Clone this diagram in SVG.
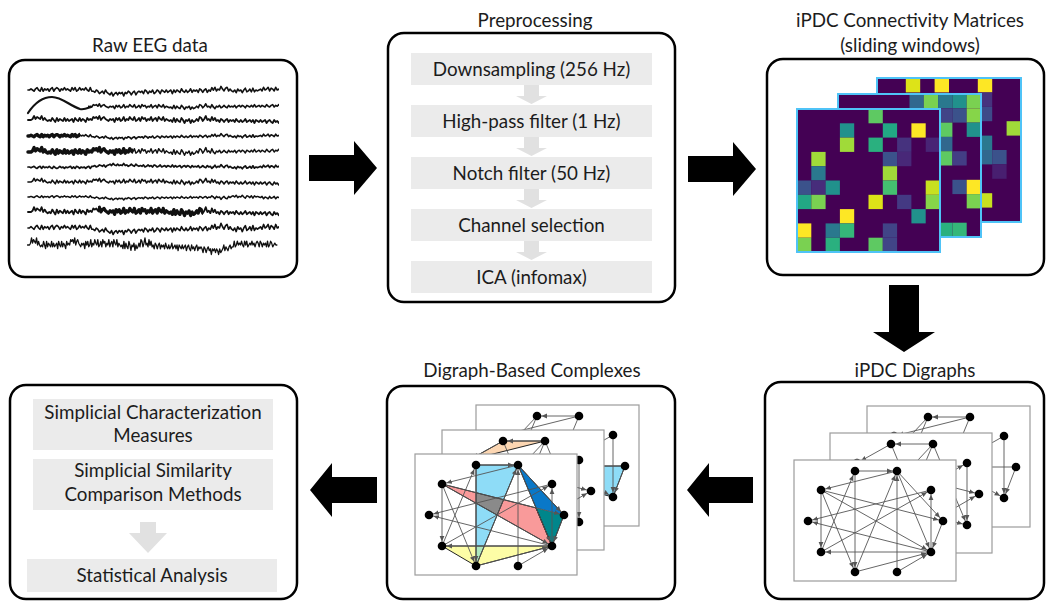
<svg xmlns="http://www.w3.org/2000/svg" xmlns:xlink="http://www.w3.org/1999/xlink" width="1046" height="602" viewBox="0 0 1046 602">
<style>
.box{fill:#fff;stroke:#000;stroke-width:2.5}
.t{font-family:Lato,"Noto Sans","DejaVu Sans",sans-serif;font-size:18.8px;fill:#1c1c1c;text-anchor:middle}
.gb{fill:#ebebeb}
.ga{fill:#e1e1e1}
.eeg{fill:none;stroke:#111;stroke-linejoin:round;stroke-linecap:round}
.fr{fill:#fff;stroke:#9c9c9c;stroke-width:1.2}
.e{stroke:#555;stroke-width:0.9;marker-end:url(#ah)}
.nd circle{fill:#000}
.ol{fill:none;stroke:#222;stroke-width:1}
.blk{fill:#000}
.mb{fill:#440154}
.mo{fill:none;stroke:#4fc3f7;stroke-width:2}
</style>
<defs>
<marker id="ah" viewBox="0 0 10 6" refX="10" refY="3" markerWidth="10" markerHeight="6" markerUnits="userSpaceOnUse" orient="auto"><path d="M0,0.6 L5.5,3 L0,5.4z" fill="#555"/></marker>
<path id="nA" class="eeg" vector-effect="non-scaling-stroke" d="M0,0l2,-2 2,3 2,-1 2,2 2,-3 2,1 2,2 2,-2 2,-1 2,3 2,-2 2,1 2,-1 2,2 2,-3 2,2 2,1 2,-2 2,2 2,-1 2,-2 2,3 2,-1 2,-1 2,2 2,-2 2,3 2,-3 2,1 2,1 2,-2 2,2 2,-1 2,-1 2,3 2,-2 2,-1 2,2 2,1 2,-3 2,2 2,-1 2,2 2,-2 2,-1 2,3 2,-2 2,1 2,-1 2,1 2,2 2,-3 2,1 2,2 2,-2 2,-1 2,2 2,-1 2,3 2,-3 2,1 2,-1 2,2 2,-2 2,1 2,2 2,-3 2,2 2,-1 2,-1 2,-2 2,3 2,-2 2,1 2,1 2,-2 2,-1 2,2 2,-1 2,0 2,-3 2,3 2,-1 2,-2 2,2 2,-1 2,1 2,-2 2,2 2,1 2,-3 2,2 2,-2 2,3 2,-1 2,-1 2,1 2,-2 2,2 2,-1 2,2 2,-2 2,-1 2,1 2,2 2,-3 2,1 2,2 2,-2 2,1 2,-1 2,2 2,-3 2,3 2,-1 2,-2 2,1 2,2 2,-1 2,-1 2,1 2,0"/>
<path id="nC" class="eeg" vector-effect="non-scaling-stroke" d="M0,0l2,-3 2,4 2,-2 2,1 2,-4 2,3 2,2 2,-3 2,-1 2,4 2,-2 2,2 2,1 2,-2 2,3 2,-4 2,2 2,-1 2,3 2,-3 2,-2 2,4 2,-1 2,-2 2,3 2,-4 2,4 2,-2 2,1 2,-1 2,-1 2,2 2,-4 2,3 2,-1 2,-2 2,4 2,-3 2,1 2,2 2,-4 2,3 2,-1 2,2 2,-3 2,1 2,-2 2,4 2,-3 2,2 2,1 2,-4 2,3 2,-1 2,-2 2,3 2,-1 2,2 2,-4 2,3 2,1 2,-3 2,2 2,-2 2,4 2,-3 2,1 2,-1 2,2 2,-1 2,-1 2,-2 2,1 2,2 2,-4 2,3 2,-2 2,1 2,-1 2,3 2,-1 2,1 2,-2 2,4 2,-2 2,-1 2,2 2,-3 2,3 2,-1 2,-2 2,4 2,-3 2,1 2,1 2,-2 2,2 2,-3 2,3 2,-1 2,-1 2,2 2,-3 2,4 2,-2 2,-2 2,3 2,-1 2,1 2,-1 2,-2 2,2 2,-4 2,3 2,-1 2,-1 2,2 2,-3 2,3 2,1 2,0 2,0"/>
<clipPath id="cE"><rect x="26" y="60" width="253" height="217"/></clipPath>
<clipPath id="cR90"><rect x="88" y="0" width="200" height="602"/></clipPath>
<clipPath id="cL80"><rect x="20" y="0" width="60" height="602"/></clipPath>
<clipPath id="cL135"><rect x="20" y="0" width="113" height="602"/></clipPath>
<clipPath id="cMid"><rect x="98" y="0" width="105" height="602"/></clipPath>
<g id="gF">
<line class="e" x1="61" y1="11" x2="103" y2="11"/>
<line class="e" x1="61" y1="11" x2="61" y2="112"/>
<line class="e" x1="27" y1="30" x2="27" y2="92"/>
<line class="e" x1="137" y1="92" x2="137" y2="30"/>
<line class="e" x1="103" y1="112" x2="103" y2="11"/>
<line class="e" x1="103" y1="11" x2="27" y2="30"/>
<line class="e" x1="27" y1="30" x2="61" y2="112"/>
<line class="e" x1="27" y1="92" x2="61" y2="11"/>
<line class="e" x1="27" y1="30" x2="149" y2="61"/>
<line class="e" x1="27" y1="30" x2="137" y2="92"/>
<line class="e" x1="137" y1="30" x2="14" y2="61"/>
<line class="e" x1="137" y1="92" x2="14" y2="61"/>
<line class="e" x1="27" y1="92" x2="137" y2="30"/>
<line class="e" x1="137" y1="92" x2="27" y2="92"/>
<line class="e" x1="61" y1="112" x2="103" y2="11"/>
<line class="e" x1="103" y1="11" x2="137" y2="92"/>
<line class="e" x1="103" y1="11" x2="149" y2="61"/>
<line class="e" x1="61" y1="112" x2="137" y2="92"/>
<line class="e" x1="103" y1="112" x2="137" y2="92"/>
<line class="e" x1="149" y1="61" x2="137" y2="92"/>
<g class="nd"><circle cx="61" cy="11" r="4.3"/><circle cx="103" cy="11" r="4.3"/><circle cx="27" cy="30" r="4.3"/><circle cx="137" cy="30" r="4.3"/><circle cx="14" cy="61" r="4.3"/><circle cx="149" cy="61" r="4.3"/><circle cx="27" cy="92" r="4.3"/><circle cx="137" cy="92" r="4.3"/><circle cx="61" cy="112" r="4.3"/><circle cx="103" cy="112" r="4.3"/></g>
</g>
<g id="gM">
<line class="e" x1="103" y1="11" x2="61" y2="11"/>
<line class="e" x1="61" y1="11" x2="27" y2="30"/>
<line class="e" x1="61" y1="11" x2="103" y2="112"/>
<line class="e" x1="103" y1="11" x2="137" y2="92"/>
<line class="e" x1="103" y1="11" x2="61" y2="112"/>
<line class="e" x1="137" y1="30" x2="137" y2="92"/>
<line class="e" x1="27" y1="30" x2="149" y2="61"/>
<line class="e" x1="27" y1="92" x2="137" y2="30"/>
<line class="e" x1="14" y1="61" x2="137" y2="92"/>
<line class="e" x1="61" y1="112" x2="149" y2="61"/>
<line class="e" x1="103" y1="11" x2="27" y2="92"/>
<g class="nd"><circle cx="61" cy="11" r="4.3"/><circle cx="103" cy="11" r="4.3"/><circle cx="27" cy="30" r="4.3"/><circle cx="137" cy="30" r="4.3"/><circle cx="14" cy="61" r="4.3"/><circle cx="149" cy="61" r="4.3"/><circle cx="27" cy="92" r="4.3"/><circle cx="137" cy="92" r="4.3"/><circle cx="61" cy="112" r="4.3"/><circle cx="103" cy="112" r="4.3"/></g>
</g>
<g id="gB">
<line class="e" x1="103" y1="11" x2="61" y2="11"/>
<line class="e" x1="61" y1="11" x2="27" y2="92"/>
<line class="e" x1="61" y1="11" x2="14" y2="61"/>
<line class="e" x1="103" y1="11" x2="27" y2="30"/>
<line class="e" x1="103" y1="11" x2="61" y2="112"/>
<line class="e" x1="137" y1="30" x2="137" y2="92"/>
<line class="e" x1="149" y1="61" x2="14" y2="61"/>
<line class="e" x1="149" y1="61" x2="137" y2="92"/>
<line class="e" x1="137" y1="30" x2="27" y2="92"/>
<line class="e" x1="27" y1="30" x2="137" y2="92"/>
<g class="nd"><circle cx="61" cy="11" r="4.3"/><circle cx="103" cy="11" r="4.3"/><circle cx="27" cy="30" r="4.3"/><circle cx="137" cy="30" r="4.3"/><circle cx="14" cy="61" r="4.3"/><circle cx="149" cy="61" r="4.3"/><circle cx="27" cy="92" r="4.3"/><circle cx="137" cy="92" r="4.3"/><circle cx="61" cy="112" r="4.3"/><circle cx="103" cy="112" r="4.3"/></g>
</g>
</defs>

<rect width="1046" height="602" fill="#fff"/>

<g id="raw-eeg">
<rect class="box" x="9" y="60" width="288" height="217" rx="16"/>
<text class="t" x="150" y="52">Raw EEG data</text>
<g clip-path="url(#cE)">
<use href="#nA" transform="translate(213.4,90) scale(-0.76,1.2)" stroke-width="1.6"/>
<use href="#nC" transform="translate(213.4,90) scale(0.76,0.9)" stroke-width="1.6"/>
<path class="eeg" stroke-width="2.2" d="M28,113 C34,104 42,97 52,97 C62,97 70,106 80,109 C84,110 88,108 91,107"/>
<g clip-path="url(#cR90)">
<use href="#nC" transform="translate(213.4,107) scale(-0.76,0.8)" stroke-width="1.6"/>
<use href="#nA" transform="translate(213.4,107) scale(0.76,-0.8)" stroke-width="1.6"/>
</g>
<use href="#nC" transform="translate(213.4,120) scale(-0.76,1)" stroke-width="1.8"/>
<use href="#nA" transform="translate(213.4,120) scale(0.76,1)" stroke-width="1.8"/>
<use href="#nA" transform="translate(213.4,136) scale(-0.76,0.7)" stroke-width="1.6"/>
<use href="#nC" transform="translate(213.4,136) scale(0.76,0.6)" stroke-width="1.6"/>
<g clip-path="url(#cL80)"><use href="#nA" transform="translate(213.4,136) scale(-0.76,0.7)" stroke-width="3.4"/></g>
<use href="#nC" transform="translate(213.4,152) scale(-0.76,1.1)" stroke-width="1.5"/>
<use href="#nA" transform="translate(213.4,152) scale(0.76,-0.9)" stroke-width="1.5"/>
<g clip-path="url(#cL135)"><use href="#nC" transform="translate(213.4,152) scale(-0.76,1.1)" stroke-width="3.4"/></g>
<use href="#nA" transform="translate(213.4,167) scale(-0.76,-0.7)" stroke-width="1.7"/>
<use href="#nC" transform="translate(213.4,167) scale(0.76,0.6)" stroke-width="1.7"/>
<use href="#nC" transform="translate(213.4,182) scale(-0.76,0.9)" stroke-width="1.6"/>
<use href="#nA" transform="translate(213.4,182) scale(0.76,1)" stroke-width="1.6"/>
<use href="#nA" transform="translate(213.4,197) scale(-0.76,0.6)" stroke-width="1.5"/>
<use href="#nC" transform="translate(213.4,197) scale(0.76,-0.6)" stroke-width="1.5"/>
<use href="#nC" transform="translate(213.4,212) scale(-0.76,1.2)" stroke-width="1.8"/>
<use href="#nA" transform="translate(213.4,212) scale(0.76,1.1)" stroke-width="1.8"/>
<g clip-path="url(#cMid)"><use href="#nC" transform="translate(213.4,212) scale(-0.76,1.2)" stroke-width="3.2"/></g>
<use href="#nA" transform="translate(213.4,228) scale(-0.76,1.3)" stroke-width="1.6"/>
<use href="#nC" transform="translate(213.4,228) scale(0.76,1.2)" stroke-width="1.6"/>
<use href="#nC" transform="translate(150,245) scale(-0.502,1.8)" stroke-width="1.3"/>
<use href="#nA" transform="translate(150,245) scale(0.52,1.9)" stroke-width="1.3"/>
</g>
</g>

<g id="preprocessing">
<rect class="box" x="388" y="33" width="287" height="269" rx="16"/>
<text class="t" x="535" y="27">Preprocessing</text>
<rect class="gb" x="411" y="53" width="241" height="32"/>
<rect class="gb" x="411" y="105" width="241" height="32"/>
<rect class="gb" x="411" y="157" width="241" height="32"/>
<rect class="gb" x="411" y="209" width="241" height="32"/>
<rect class="gb" x="411" y="261" width="241" height="32"/>
<path class="ga" d="M524,85h15v11h8l-15.5,8l-15.5,-8h8z"/>
<path class="ga" d="M524,137h15v11h8l-15.5,8l-15.5,-8h8z"/>
<path class="ga" d="M524,189h15v11h8l-15.5,8l-15.5,-8h8z"/>
<path class="ga" d="M524,241h15v11h8l-15.5,8l-15.5,-8h8z"/>
<text class="t" x="531.5" y="75.5">Downsampling (256 Hz)</text>
<text class="t" x="531.5" y="127.5">High-pass filter (1 Hz)</text>
<text class="t" x="531.5" y="179.5">Notch filter (50 Hz)</text>
<text class="t" x="531.5" y="231.5">Channel selection</text>
<text class="t" x="531.5" y="283.5">ICA (infomax)</text>
</g>

<g id="ipdc-matrices">
<rect class="box" x="767" y="59" width="277" height="216" rx="16"/>
<text class="t" x="910" y="27">iPDC Connectivity Matrices</text>
<text class="t" x="910" y="52">(sliding windows)</text>
<g transform="translate(877,78)">
<rect class="mb" width="144" height="144"/>
<g transform="scale(14.4)">
<rect x="2" y="0" width="1" height="1" fill="#dde318"/><rect x="4" y="0" width="1" height="1" fill="#fde725"/><rect x="7" y="0" width="1" height="1" fill="#fde725"/>
<rect x="7" y="1" width="1" height="1" fill="#46337e"/><rect x="7" y="2" width="1" height="1" fill="#3e4a89"/>
<rect x="9" y="3" width="1" height="1" fill="#a0da39"/><rect x="7" y="4" width="1" height="1" fill="#2a788e"/>
<rect x="7" y="5" width="1" height="1" fill="#31688e"/><rect x="8" y="5" width="1" height="1" fill="#3b528b"/>
<rect x="8" y="6" width="1" height="1" fill="#481f70"/><rect x="7" y="8" width="1" height="1" fill="#c8e020"/>
</g>
<rect class="mo" width="144" height="144"/>
</g>
<g transform="translate(838,94)">
<rect class="mb" width="143" height="143"/>
<g transform="scale(14.3)">
<rect x="5" y="0" width="1" height="1" fill="#31688e"/><rect x="6" y="0" width="1" height="1" fill="#7ad151"/><rect x="7" y="0" width="1" height="1" fill="#2a788e"/><rect x="8" y="0" width="1" height="1" fill="#21918c"/><rect x="9" y="0" width="1" height="1" fill="#7ad151"/>
<rect x="7" y="1" width="1" height="1" fill="#414487"/><rect x="8" y="1" width="1" height="1" fill="#3b528b"/><rect x="9" y="1" width="1" height="1" fill="#86d549"/>
<rect x="7" y="2" width="1" height="1" fill="#5ec962"/><rect x="9" y="2" width="1" height="1" fill="#21918c"/>
<rect x="7" y="3" width="1" height="1" fill="#31688e"/>
<rect x="7" y="4" width="1" height="1" fill="#5ec962"/><rect x="8" y="4" width="1" height="1" fill="#433e85"/>
<rect x="8" y="6" width="1" height="1" fill="#3b528b"/><rect x="9" y="6" width="1" height="1" fill="#fde725"/>
<rect x="9" y="7" width="1" height="1" fill="#7ad151"/>
<rect x="7" y="9" width="1" height="1" fill="#2ab07f"/><rect x="8" y="9" width="1" height="1" fill="#35b779"/>
</g>
<rect class="mo" width="143" height="143"/>
</g>
<g transform="translate(797,109)">
<rect class="mb" width="143" height="143"/>
<g transform="scale(14.3)">
<rect x="5" y="0" width="1" height="1" fill="#5ec962"/>
<rect x="3" y="1" width="1" height="1" fill="#21918c"/><rect x="6" y="1" width="1" height="1" fill="#22a884"/><rect x="8" y="1" width="1" height="1" fill="#fde725"/>
<rect x="3" y="2" width="1" height="1" fill="#a0da39"/><rect x="5" y="2" width="1" height="1" fill="#2ab07f"/><rect x="7" y="2" width="1" height="1" fill="#46327e"/><rect x="9" y="2" width="1" height="1" fill="#482475"/>
<rect x="1" y="3" width="1" height="1" fill="#a0da39"/><rect x="6" y="3" width="1" height="1" fill="#3b528b"/><rect x="7" y="3" width="1" height="1" fill="#482878"/>
<rect x="1" y="4" width="1" height="1" fill="#2a788e"/><rect x="6" y="4" width="1" height="1" fill="#a0da39"/>
<rect x="0" y="5" width="1" height="1" fill="#3b528b"/><rect x="1" y="5" width="1" height="1" fill="#472d7b"/><rect x="2" y="5" width="1" height="1" fill="#21918c"/><rect x="6" y="5" width="1" height="1" fill="#44bf70"/><rect x="9" y="5" width="1" height="1" fill="#c8e020"/>
<rect x="0" y="6" width="1" height="1" fill="#22a884"/><rect x="1" y="6" width="1" height="1" fill="#7ad151"/><rect x="5" y="6" width="1" height="1" fill="#dde318"/><rect x="7" y="6" width="1" height="1" fill="#443983"/><rect x="9" y="6" width="1" height="1" fill="#86d549"/>
<rect x="3" y="7" width="1" height="1" fill="#fde725"/><rect x="8" y="7" width="1" height="1" fill="#21918c"/>
<rect x="0" y="8" width="1" height="1" fill="#fde725"/><rect x="2" y="8" width="1" height="1" fill="#2a788e"/><rect x="3" y="8" width="1" height="1" fill="#35b779"/><rect x="6" y="8" width="1" height="1" fill="#414487"/>
<rect x="0" y="9" width="1" height="1" fill="#7ad151"/><rect x="2" y="9" width="1" height="1" fill="#2ab07f"/><rect x="5" y="9" width="1" height="1" fill="#5ec962"/><rect x="6" y="9" width="1" height="1" fill="#414487"/>
</g>
<rect class="mo" width="143" height="143"/>
</g>
</g>

<g id="ipdc-digraphs">
<rect class="box" x="765" y="382" width="279" height="217" rx="16"/>
<text class="t" x="915" y="377">iPDC Digraphs</text>
<g transform="translate(867,406)"><rect class="fr" width="163" height="121"/><use href="#gB"/></g>
<g transform="translate(830,433)"><rect class="fr" width="162" height="120"/><use href="#gM"/></g>
<g transform="translate(794,460)"><rect class="fr" width="162" height="121"/><use href="#gF"/></g>
</g>

<g id="complexes">
<rect class="box" x="387" y="386" width="288" height="213" rx="16"/>
<text class="t" x="532" y="377">Digraph-Based Complexes</text>
<g transform="translate(476,405)"><rect class="fr" width="163" height="121"/>
<polygon points="14,61 149,61 137,92" fill="#8edcf7"/><polygon class="ol" points="14,61 149,61 137,92"/>
<use href="#gB"/></g>
<g transform="translate(442,430)"><rect class="fr" width="162" height="120"/>
<polygon points="61,11 103,11 27,30" fill="#fcd6b2"/><polygon class="ol" points="61,11 103,11 27,30"/>
<use href="#gM"/></g>
<g transform="translate(415,454)"><rect class="fr" width="162" height="121"/>
<polygon points="61,11 103,11 61,112" fill="#8edcf7"/>
<polygon points="27,30 121,53.9 137,92" fill="#f99a9a"/>
<polygon points="61,38.6 88.6,45.7 82.2,61.1 61,49.2" fill="#8a8a8a"/>
<polygon points="103,11 149,61 121,53.9" fill="#0a78c8"/>
<polygon points="121,53.9 149,61 137,92" fill="#00868b"/>
<polygon points="27,92 137,92 61,112" fill="#fdfda6"/>
<polygon points="61,92 69.3,92 61,112" fill="#aee9bf"/>
<polygon class="ol" points="61,11 103,11 61,112"/>
<polygon class="ol" points="27,30 121,53.9 137,92"/>
<polygon class="ol" points="103,11 149,61 137,92"/>
<polygon class="ol" points="27,92 137,92 61,112"/>
<use href="#gF"/></g>
</g>

<g id="analysis">
<rect class="box" x="10" y="385" width="287" height="214" rx="16"/>
<rect class="gb" x="33" y="399" width="240" height="51"/>
<rect class="gb" x="33" y="459" width="240" height="51"/>
<rect class="gb" x="27" y="559" width="250" height="33"/>
<path class="ga" d="M140,522h16v11h11l-19,20l-19,-20h11z"/>
<text class="t" x="153" y="419">Simplicial Characterization</text>
<text class="t" x="153" y="442">Measures</text>
<text class="t" x="153" y="477">Simplicial Similarity</text>
<text class="t" x="153" y="501">Comparison Methods</text>
<text class="t" x="152" y="582">Statistical Analysis</text>
</g>

<g id="connectors">
<polygon class="blk" points="309,155 354,155 354,141 377,168 354,195 354,181 309,181"/>
<polygon class="blk" points="688,156 733,156 733,142 756,169 733,196 733,182 688,182"/>
<polygon class="blk" points="889,285 919,285 919,332 935,332 904,352 873,332 889,332"/>
<polygon class="blk" points="310,490 332,463 332,477 377,477 377,503 332,503 332,517"/>
<polygon class="blk" points="687,490 709,463 709,477 753,477 753,503 709,503 709,517"/>
</g>
</svg>
